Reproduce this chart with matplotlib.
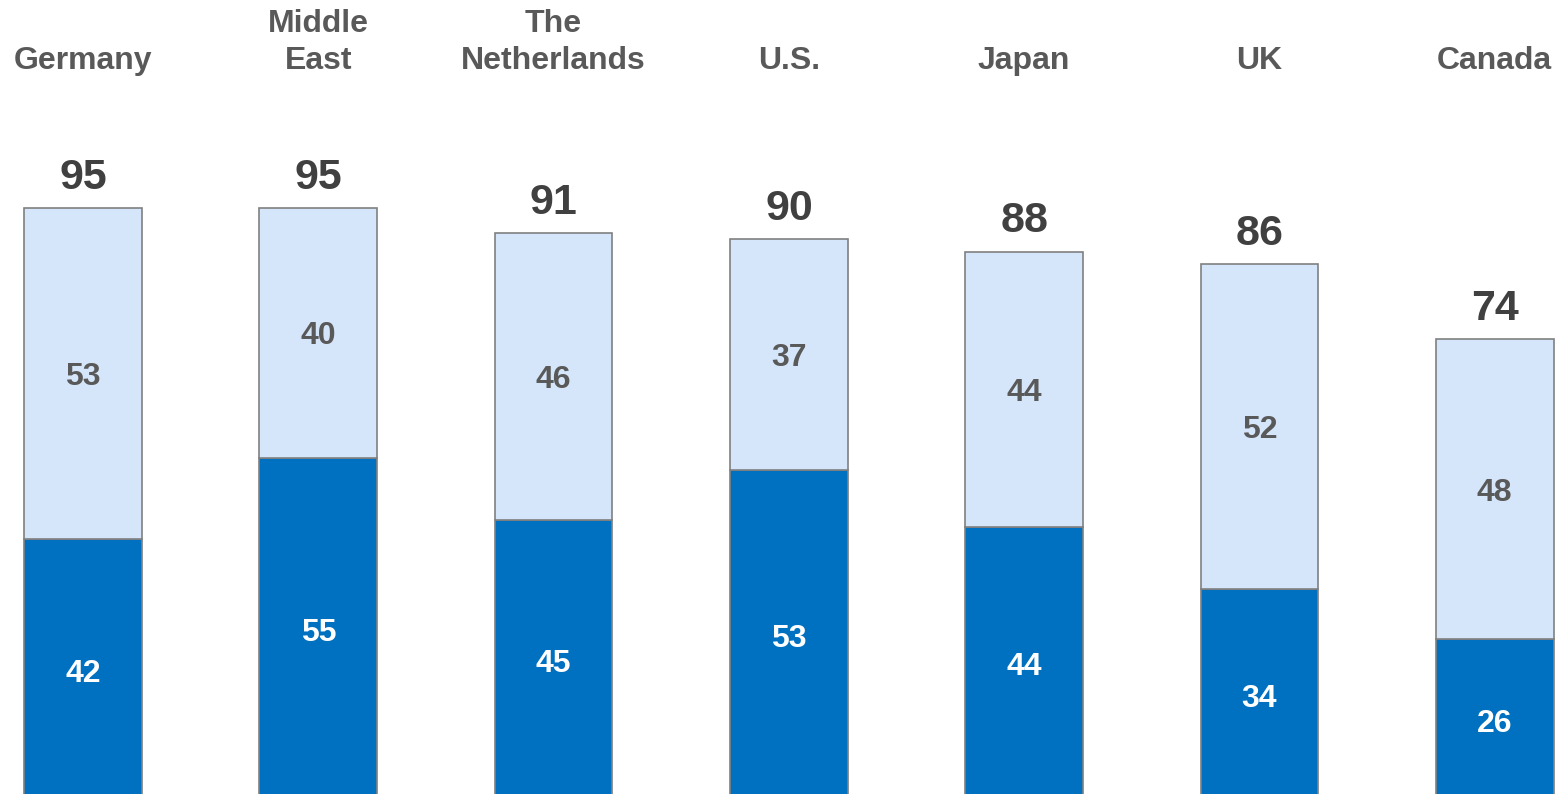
import matplotlib.pyplot as plt

# Stacked bars per region: lower (dark) and upper (light) shares
regions = ["Germany", "Middle\nEast", "The\nNetherlands", "U.S.", "Japan", "UK", "Canada"]
lower = [42, 55, 45, 53, 44, 34, 26]
upper = [53, 40, 46, 37, 44, 52, 48]
totals = [95, 95, 91, 90, 88, 86, 74]

DARK = "#0070C0"
LIGHT = "#D6E6FA"
EDGE = "#808080"

plt.rcParams['font.family'] = ['Liberation Sans', 'DejaVu Sans']

fig = plt.figure(figsize=(15.67, 7.94), dpi=100)
ax = fig.add_axes([0, 0, 1, 1])

x = list(range(len(regions)))
ax.bar(x, lower, width=0.5, color=DARK, edgecolor=EDGE, linewidth=1.2)
ax.bar(x, upper, bottom=lower, width=0.5, color=LIGHT, edgecolor=EDGE, linewidth=1.2)

for i in x:
    ax.annotate(str(lower[i]), (i, lower[i] / 2), xytext=(0, -2.5),
                textcoords="offset points", ha="center", va="center",
                fontsize=23, fontweight="bold", color="white")
    ax.annotate(str(upper[i]), (i, lower[i] + upper[i] / 2), xytext=(0, -2.5),
                textcoords="offset points", ha="center", va="center",
                fontsize=23, fontweight="bold", color="#595959")
    ax.annotate(str(totals[i]), (i, lower[i] + upper[i]), xytext=(0, 14),
                textcoords="offset points", ha="center", va="baseline",
                fontsize=31, fontweight="bold", color="#404040")
    ax.text(i, 116.1, regions[i], ha="center", va="bottom", fontsize=23,
            fontweight="bold", color="#595959", linespacing=1.3)

ax.set_xlim(-0.3527, 6.307)
ax.set_ylim(1.17, 128.3)
ax.axis("off")

fig.savefig("out.png", dpi=100)
